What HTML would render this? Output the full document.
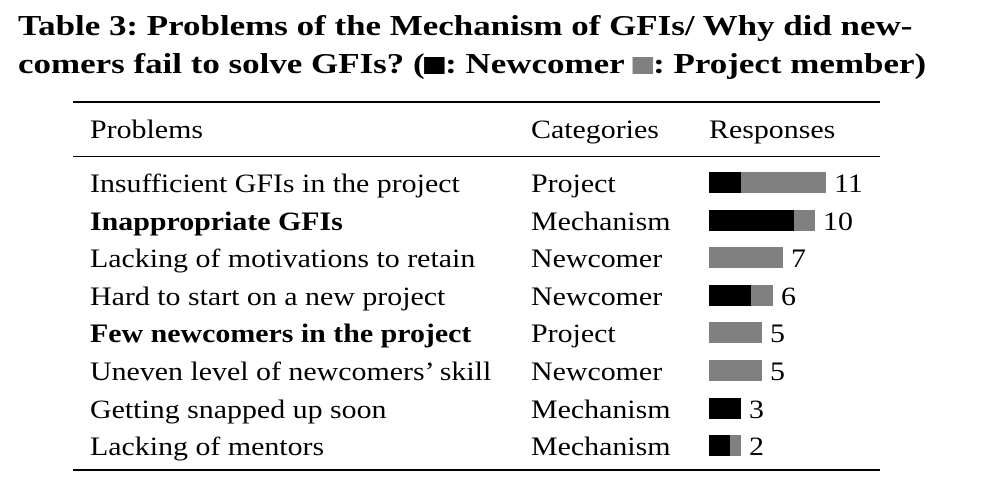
<!DOCTYPE html>
<html><head><meta charset="utf-8"><style>
body{margin:0;width:982px;height:496px;background:#fff;font-family:"Liberation Serif",serif;color:#000;position:relative;overflow:hidden}
.t{position:absolute;white-space:nowrap}
.title{left:18px;font-weight:bold;font-size:29px;transform:scaleX(1.205);transform-origin:0 0}
.cell{font-size:26px;transform:scaleX(1.15);transform-origin:0 0}
.rule{position:absolute;left:73px;width:807px;background:#000}
.sq{display:inline-block;width:17px;height:17px;vertical-align:-1px}
</style></head><body>
<div class="t title" style="top:10px">Table 3: Problems of the Mechanism of GFIs/ Why did new-</div>
<div class="t title" style="top:48px">comers fail to solve GFIs? (<span class="sq" style="background:#000"></span>: Newcomer <span class="sq" style="background:#808080"></span>: Project member)</div>
<div class="rule" style="top:101px;height:2px"></div>
<div class="rule" style="top:156px;height:1px"></div>
<div class="rule" style="top:469px;height:2px"></div>
<div class="t cell" style="left:90px;top:115px">Problems</div>
<div class="t cell" style="left:531px;top:115px">Categories</div>
<div class="t cell" style="left:709px;top:115px">Responses</div>
<div id="rows"></div>
<script>
const problems=["Insufficient GFIs in the project","Inappropriate GFIs","Lacking of motivations to retain","Hard to start on a new project","Few newcomers in the project","Uneven level of newcomers’ skill","Getting snapped up soon","Lacking of mentors"];
const bold=[false,true,false,false,true,false,false,false];
const categories=["Project","Mechanism","Newcomer","Newcomer","Project","Newcomer","Mechanism","Mechanism"];
const newcomer=[3,8,0,4,0,0,3,2];
const member=[8,2,7,2,5,5,0,1];
const labels=["11","10","7","6","5","5","3","2"];
const x0=709,unit=10.6,rowTop=172,pitch=37.6,barH=21;
const xs=v=>v*unit;
const root=document.getElementById('rows');
problems.forEach((p,i)=>{
  const y=rowTop+i*pitch;
  const a=document.createElement('div');a.className='t cell';
  
  
  a.style.cssText=`left:90px;top:${y-3}px;${bold[i]?'font-weight:bold':''}`;a.textContent=p;root.appendChild(a);
  const c=document.createElement('div');c.className='t cell';
  
  
  c.style.cssText=`left:531px;top:${y-3}px`;c.textContent=categories[i];root.appendChild(c);
  const b1=document.createElement('div');b1.className='t';
  
  
  b1.style.cssText=`left:${x0}px;top:${y}px;width:${xs(newcomer[i])}px;height:${barH}px;background:#000`;root.appendChild(b1);
  const b2=document.createElement('div');b2.className='t';
  
  
  b2.style.cssText=`left:${x0+xs(newcomer[i])}px;top:${y}px;width:${xs(member[i])}px;height:${barH}px;background:#808080`;root.appendChild(b2);
  const l=document.createElement('div');l.className='t cell';
  
  
  l.style.cssText=`left:${x0+xs(newcomer[i]+member[i])+8}px;top:${y-3}px`;l.textContent=labels[i];root.appendChild(l);
});
</script>
</body></html>
